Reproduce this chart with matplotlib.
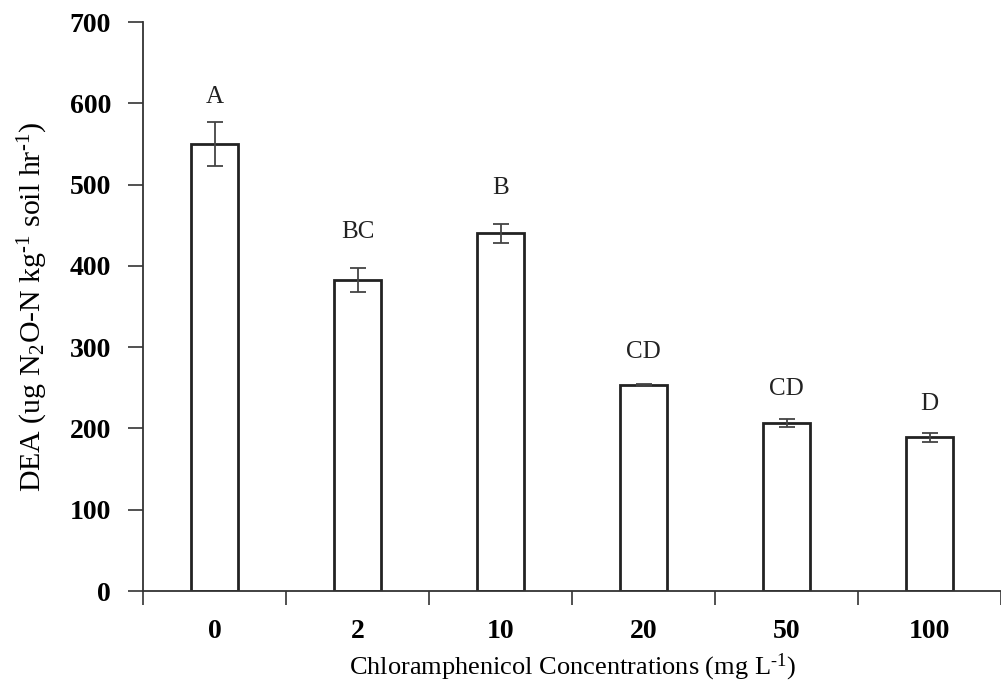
import matplotlib
matplotlib.use('Agg')
import matplotlib.pyplot as plt
import numpy as np

# DEA under chloramphenicol treatments
conc = ['0', '2', '10', '20', '50', '100']
dea = [550, 383, 440, 253, 207, 189]
err = [27, 15, 12, 1.2, 5, 6]
letters = ['A', 'BC', 'B', 'CD', 'CD', 'D']
letter_y = [608, 442, 496, 294, 249, 230]

plt.rcParams['font.family'] = ['Liberation Serif', 'DejaVu Serif']
plt.rcParams['mathtext.fontset'] = 'custom'
plt.rcParams['mathtext.rm'] = 'Liberation Serif'
plt.rcParams['mathtext.it'] = 'Liberation Serif:italic'

fig = plt.figure(figsize=(10.01, 6.89), dpi=100)
ax = fig.add_axes([0.1429, 0.1422, 0.8571, 0.8258])

x = np.arange(len(conc))
ax.bar(x, dea, width=0.33, color='white', edgecolor='#222222', linewidth=2, zorder=2)
ax.errorbar(x, dea, yerr=err, fmt='none', ecolor='#444444', elinewidth=1.3,
            capsize=6, capthick=1.3, zorder=3)
for xi, lab, ly in zip(x, letters, letter_y):
    ax.text(xi, ly, lab, ha='center', va='center', fontsize=18, color='#222222')

ax.set_xlim(-0.5, 5.5)
ax.set_ylim(0, 700)
ax.set_yticks(range(0, 701, 100))
ax.set_yticklabels([str(v) for v in range(0, 701, 100)], fontsize=20, fontweight='bold')

# ticks between categories, labels under bars
ax.set_xticks(np.arange(-0.5, 5.6, 1.0))
ax.set_xticklabels([])
ax.set_xticks(x, minor=True)
ax.set_xticklabels(conc, minor=True, fontsize=20, fontweight='bold')
ax.tick_params(axis='x', which='minor', length=0, pad=20)
ax.tick_params(axis='x', which='major', length=10, width=1.2, direction='out', color='#333333')
ax.tick_params(axis='y', length=11, width=1.2, direction='out', color='#333333', pad=12)

for s in ['top', 'right']:
    ax.spines[s].set_visible(False)
for s in ['left', 'bottom']:
    ax.spines[s].set_linewidth(1.3)
    ax.spines[s].set_color('#333333')

ax.set_xlabel(r'Chloramphenicol Concentrations (mg L$^{\text{-1}}$)', fontsize=19, labelpad=6)
ax.set_ylabel(r'DEA (ug N$_2$O-N kg$^{\text{-1}}$ soil hr$^{\text{-1}}$)', fontsize=21.5, labelpad=14)

fig.savefig('out.png', dpi=100)
